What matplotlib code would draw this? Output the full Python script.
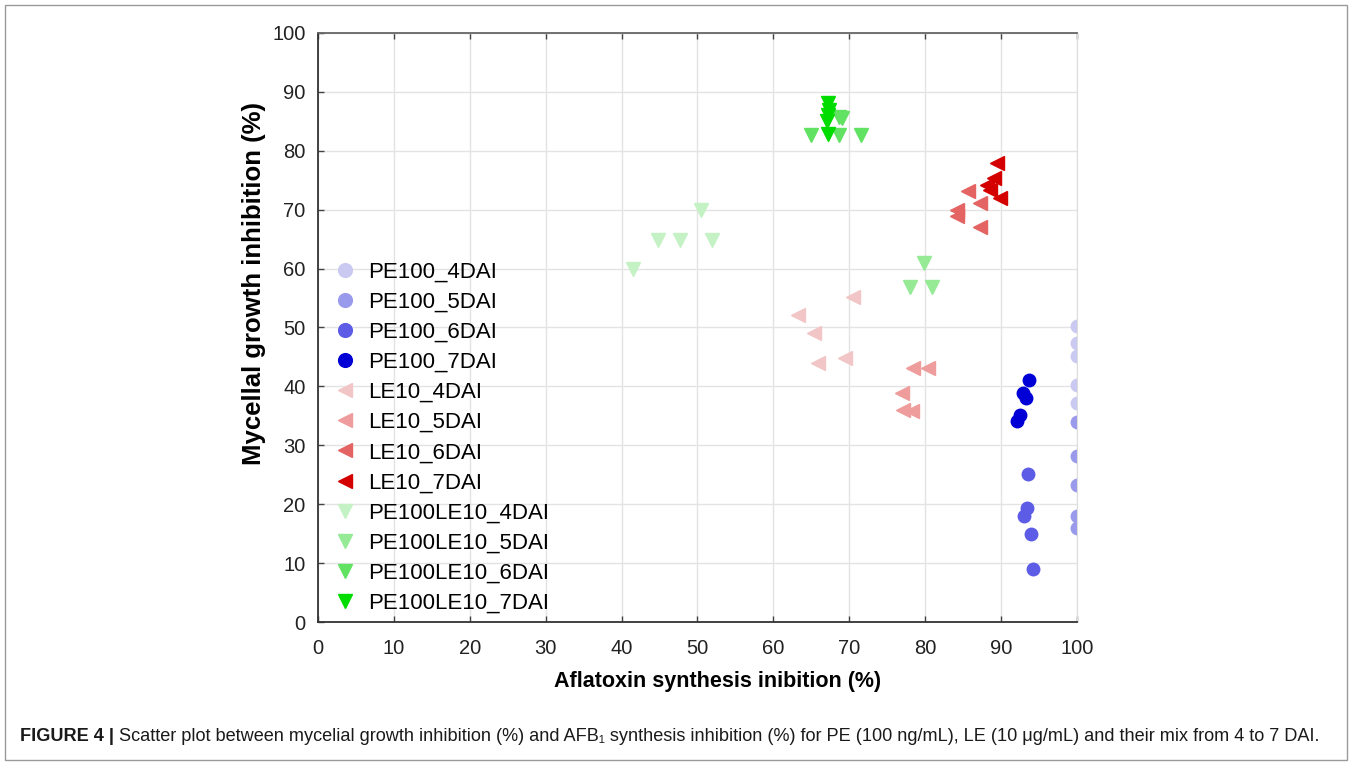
import matplotlib
matplotlib.use("Agg")
import matplotlib.pyplot as plt
from matplotlib.patches import Rectangle

plt.rcParams['font.family'] = ['Liberation Sans', 'DejaVu Sans']

# x = aflatoxin synthesis inhibition (%), y = mycelial growth inhibition (%)
pe100_4_x = [100, 100, 100, 100, 100]
pe100_4_y = [50.2, 47.3, 45.1, 40.2, 37.2]
pe100_5_x = [100, 100, 100, 100, 100]
pe100_5_y = [34.0, 28.1, 23.2, 18.0, 16.0]
pe100_6_x = [93.6, 93.4, 93.0, 94.0, 94.2]
pe100_6_y = [25.2, 19.3, 18.0, 14.9, 9.0]
pe100_7_x = [93.7, 92.9, 93.3, 92.5, 92.1]
pe100_7_y = [41.1, 38.8, 38.0, 35.1, 34.1]

le10_4_x = [70.5, 63.3, 65.3, 65.9, 69.4]
le10_4_y = [55.1, 52.1, 49.0, 44.0, 44.9]
le10_5_x = [78.4, 80.4, 77.0, 77.1, 78.3]
le10_5_y = [43.1, 43.1, 38.9, 36.0, 35.9]
le10_6_x = [85.7, 87.2, 84.2, 84.2, 87.2]
le10_6_y = [73.1, 71.1, 70.0, 68.9, 67.1]
le10_7_x = [89.4, 89.0, 88.1, 88.6, 89.9]
le10_7_y = [78.0, 75.3, 74.2, 73.4, 72.0]

mix_4_x = [50.5, 44.8, 47.7, 51.9, 41.5]
mix_4_y = [69.9, 64.9, 64.9, 64.9, 59.9]
mix_5_x = [79.8, 78.0, 80.9]
mix_5_y = [60.9, 56.9, 56.9]
mix_6_x = [65.0, 68.7, 71.5, 68.6, 69.0]
mix_6_y = [82.7, 82.7, 82.7, 85.8, 85.6]
mix_7_x = [67.2, 67.1, 67.2, 67.3, 67.2]
mix_7_y = [82.8, 85.0, 86.0, 87.0, 88.1]

series = [
    ('PE100_4DAI', pe100_4_x, pe100_4_y, 'o', '#c9c9f2'),
    ('PE100_5DAI', pe100_5_x, pe100_5_y, 'o', '#9a9aec'),
    ('PE100_6DAI', pe100_6_x, pe100_6_y, 'o', '#5c5ce6'),
    ('PE100_7DAI', pe100_7_x, pe100_7_y, 'o', '#0000d6'),
    ('LE10_4DAI', le10_4_x, le10_4_y, '<', '#f2c6c6'),
    ('LE10_5DAI', le10_5_x, le10_5_y, '<', '#ee9c9c'),
    ('LE10_6DAI', le10_6_x, le10_6_y, '<', '#e46464'),
    ('LE10_7DAI', le10_7_x, le10_7_y, '<', '#d40000'),
    ('PE100LE10_4DAI', mix_4_x, mix_4_y, 'v', '#c4f2c4'),
    ('PE100LE10_5DAI', mix_5_x, mix_5_y, 'v', '#96ea96'),
    ('PE100LE10_6DAI', mix_6_x, mix_6_y, 'v', '#62e262'),
    ('PE100LE10_7DAI', mix_7_x, mix_7_y, 'v', '#00dc00'),
]

fig = plt.figure(figsize=(13.52, 7.65), dpi=100)
ax = fig.add_axes([0.2352, 0.1869, 0.5614, 0.7700])

for name, xs, ys, mk, col in series:
    ms = 9 if mk == 'o' else 9.5
    ax.plot(xs, ys, linestyle='none', marker=mk, markersize=ms,
            markerfacecolor=col, markeredgecolor=col, label=name)

ax.set_xlim(0, 100)
ax.set_ylim(0, 100)
ax.set_xticks(range(0, 101, 10))
ax.set_yticks(range(0, 101, 10))
ax.grid(True, color='#e3e3e3', linewidth=1)
ax.set_axisbelow(True)
ax.tick_params(direction='in', length=4, width=1, color='#444444',
               labelsize=14.5, colors='#222222')
ax.tick_params(axis='x', pad=12)
ax.tick_params(axis='y', pad=9)
ax.tick_params(top=True, right=False)
for s in ['left', 'bottom', 'top']:
    ax.spines[s].set_color('#333333')
    ax.spines[s].set_linewidth(1.3)
ax.spines['top'].set_color('#666666')
ax.spines['right'].set_color('#dddddd')

ax.set_xlabel('Aflatoxin synthesis inibition (%)', fontsize=15.5, fontweight='bold')
ax.set_ylabel('Mycellal growth inhibition (%)', fontsize=18.5, fontweight='bold')
ax.xaxis.set_label_coords(0.526, -0.083)
ax.yaxis.set_label_coords(-0.069, 0.574)

ax.legend(loc='upper left', bbox_to_anchor=(0.021, 0.612), frameon=False,
          fontsize=16, handlelength=1.0, handletextpad=0.54, labelspacing=0.41,
          borderaxespad=0, borderpad=0, markerscale=1.1)

# figure frame
fig.add_artist(Rectangle((0.004, 0.006), 0.992, 0.988, transform=fig.transFigure,
                         fill=False, edgecolor='#9a9a9a', linewidth=1))

cap_font = ['Liberation Sans Narrow', 'Liberation Sans', 'DejaVu Sans']
t1 = fig.text(0.0145, 0.032, 'FIGURE 4 |', fontsize=13.1, fontweight='bold',
              family=cap_font, color='#1a1a1a')
ax.annotate('Scatter plot between mycelial growth inhibition (%) and AFB\u2081 synthesis inhibition (%) '
            'for PE (100 ng/mL), LE (10 \u03bcg/mL) and their mix from 4 to 7 DAI.',
            xy=(1, 0), xycoords=t1, xytext=(4, 0), textcoords='offset points', va='bottom',
            fontsize=13.1, family=cap_font, color='#1a1a1a', annotation_clip=False)

fig.savefig('out.png', dpi=100)
